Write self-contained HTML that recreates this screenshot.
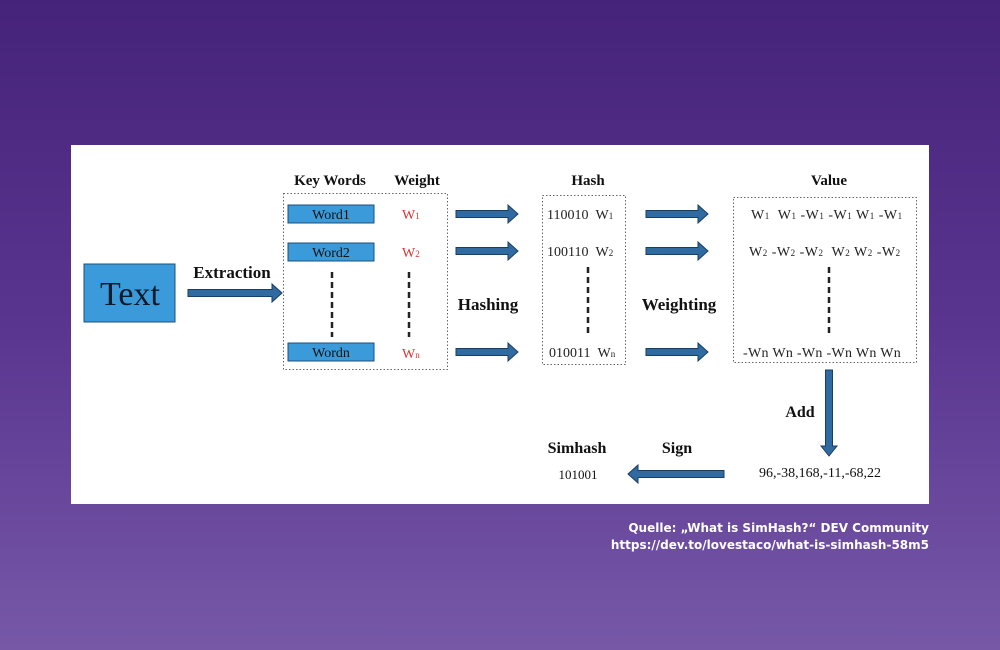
<!DOCTYPE html>
<html><head><meta charset="utf-8"><style>
html,body{margin:0;padding:0;width:1000px;height:650px;overflow:hidden}
body{background:linear-gradient(#46237a,#5a3590 50%,#7658a7)}
svg{position:absolute;left:0;top:0}
.s{font-family:"Liberation Serif",serif;}
.b{font-weight:bold;}
</style></head><body>
<svg width="1000" height="650" viewBox="0 0 1000 650">
<rect x="71" y="145" width="858" height="359" fill="#fff"/>
<g class="s" fill="#111">
<text x="330" y="185" font-size="15" text-anchor="middle" class="b">Key Words</text>
<text x="417" y="185" font-size="15" text-anchor="middle" class="b">Weight</text>
<text x="588" y="185" font-size="15" text-anchor="middle" class="b">Hash</text>
<text x="829" y="185" font-size="15" text-anchor="middle" class="b">Value</text>
<text x="232" y="278" font-size="17" text-anchor="middle" class="b">Extraction</text>
<text x="488" y="310" font-size="17" text-anchor="middle" class="b">Hashing</text>
<text x="679" y="310" font-size="17" text-anchor="middle" class="b">Weighting</text>
<text x="800" y="417" font-size="16" text-anchor="middle" class="b">Add</text>
<text x="577" y="453" font-size="16" text-anchor="middle" class="b">Simhash</text>
<text x="677" y="453" font-size="16" text-anchor="middle" class="b">Sign</text>
<text x="578" y="479" font-size="13" text-anchor="middle">101001</text>
<text x="820" y="477" font-size="14" text-anchor="middle">96,-38,168,-11,-68,22</text>
</g>
<rect x="84" y="264" width="91" height="58" fill="#3b9ad9" stroke="#1f4f7a" stroke-width="1"/>
<text x="130" y="305" class="s" font-size="34" text-anchor="middle" fill="#0a1a2a">Text</text>
<rect x="283.5" y="193.5" width="164" height="176" fill="none" stroke="#666" stroke-dasharray="1.5,2"/>
<g fill="#3b9ad9" stroke="#1f4f7a">
<rect x="288" y="205" width="86" height="18"/>
<rect x="288" y="243" width="86" height="18"/>
<rect x="288" y="343" width="86" height="18"/>
</g>
<g class="s" font-size="14" text-anchor="middle" fill="#111">
<text x="331" y="219">Word1</text>
<text x="331" y="257">Word2</text>
<text x="331" y="357">Wordn</text>
</g>
<g class="s" font-size="14" fill="#d33">
<text x="402" y="219">W<tspan font-size="9">1</tspan></text>
<text x="402" y="257">W<tspan font-size="9">2</tspan></text>
<text x="402" y="358">W<tspan font-size="9">n</tspan></text>
</g>
<g stroke="#222" stroke-width="2.5" stroke-dasharray="6,4">
<line x1="332" y1="272" x2="332" y2="337"/>
<line x1="409" y1="272" x2="409" y2="337"/>
<line x1="588" y1="267" x2="588" y2="333"/>
<line x1="829" y1="267" x2="829" y2="333"/>
</g>
<rect x="542.5" y="195.5" width="83" height="169" fill="none" stroke="#666" stroke-dasharray="1.5,2"/>
<g class="s" font-size="14" fill="#222">
<text x="547" y="219">110010 &#160;W<tspan font-size="9">1</tspan></text>
<text x="547" y="256">100110 &#160;W<tspan font-size="9">2</tspan></text>
<text x="549" y="357">010011 &#160;W<tspan font-size="9">n</tspan></text>
</g>
<rect x="733.5" y="197.5" width="183" height="165" fill="none" stroke="#666" stroke-dasharray="1.5,2"/>
<g class="s" font-size="14" fill="#222" letter-spacing="0.5">
<text x="751" y="219">W<tspan font-size="9">1</tspan> &#160;W<tspan font-size="9">1</tspan> -W<tspan font-size="9">1</tspan> -W<tspan font-size="9">1</tspan> W<tspan font-size="9">1</tspan> -W<tspan font-size="9">1</tspan></text>
<text x="749" y="256">W<tspan font-size="9">2</tspan> -W<tspan font-size="9">2</tspan> -W<tspan font-size="9">2</tspan> &#160;W<tspan font-size="9">2</tspan> W<tspan font-size="9">2</tspan> -W<tspan font-size="9">2</tspan></text>
<text x="743" y="357" letter-spacing="0.3">-Wn Wn -Wn -Wn Wn Wn</text>
</g>
<g fill="#2f6aa0" stroke="#1a3e63" stroke-width="1">
<path d="M188,289.5 H272 V284 L282,293 L272,302 V296.5 H188 Z"/>
<path d="M456,210.5 H508 V205 L518,214 L508,223 V217.5 H456 Z"/>
<path d="M456,247.5 H508 V242 L518,251 L508,260 V254.5 H456 Z"/>
<path d="M456,348.5 H508 V343 L518,352 L508,361 V355.5 H456 Z"/>
<path d="M646,210.5 H698 V205 L708,214 L698,223 V217.5 H646 Z"/>
<path d="M646,247.5 H698 V242 L708,251 L698,260 V254.5 H646 Z"/>
<path d="M646,348.5 H698 V343 L708,352 L698,361 V355.5 H646 Z"/>
<path d="M825.5,370 H832.5 V446 H837 L829,456 L821,446 H825.5 Z"/>
<path d="M724,470.5 H638 V465 L628,474 L638,483 V477.5 H724 Z"/>
</g>
<g font-family="'DejaVu Sans',sans-serif" font-weight="bold" font-size="12" fill="#fff" text-anchor="end" letter-spacing="0">
<text x="929" y="532">Quelle: „What is SimHash?“ DEV Community</text>
<text x="929" y="549">https://dev.to/lovestaco/what-is-simhash-58m5</text>
</g>
</svg>
</body></html>
